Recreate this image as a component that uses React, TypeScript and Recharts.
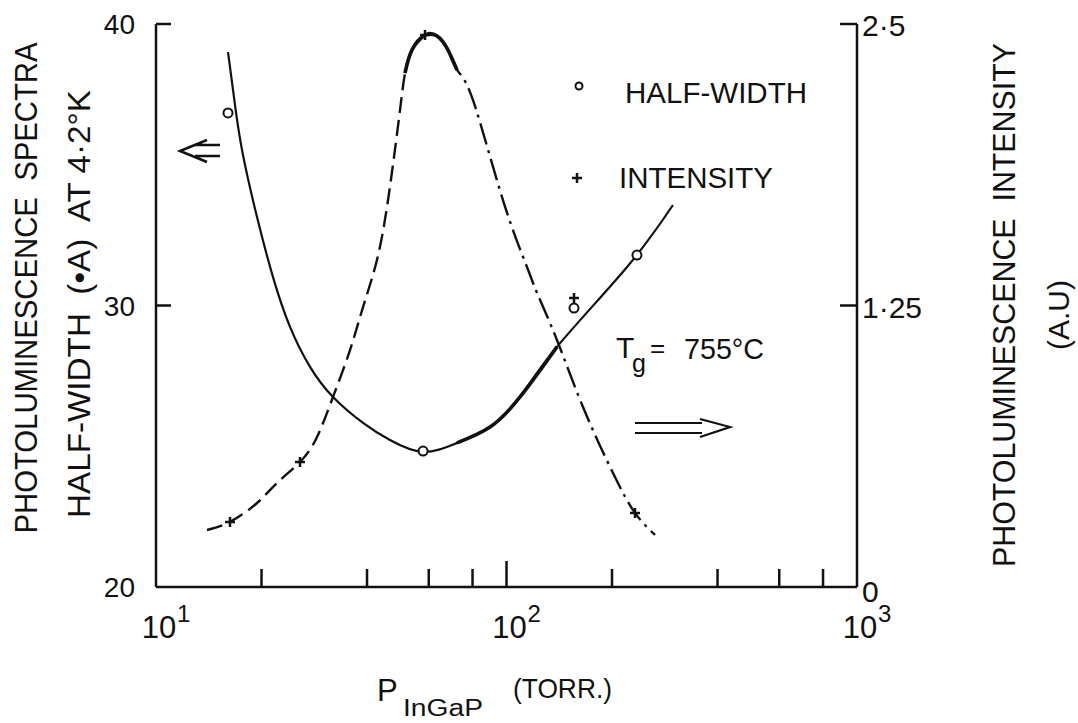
import React from "react";
import { ComposedChart, Line, Scatter, XAxis, YAxis } from "recharts";

const W = 1078;
const H = 723;
const INK = "#111";
const FONT = "'Liberation Sans', Arial, sans-serif";

// axis ticks
const xTicks = [10, 20, 40, 60, 80, 100, 200, 400, 600, 800, 1000];
const xMajor = [10, 100, 1000];
const xExponents = ["1", "2", "3"];
const widthTicks = [20, 30, 40];
const intensityTicks = [0, 1.25, 2.5];
const intensityTickLabels = ["0", "1·25", "2·5"];

// half-width curve (left axis, Å) vs P_InGaP (torr)
const widthCurveP = [16.05, 16.69, 17.6, 19.42, 21.57, 24.12, 27.51, 31.99, 38.96, 46.51, 57.8, 72.25, 89.74, 109.3, 139.3, 220.8, 298.5];
const widthCurveV = [39.0, 37.4, 35.52, 33.14, 31.01, 29.24, 27.82, 26.75, 25.83, 25.22, 24.8, 25.12, 25.68, 26.75, 28.53, 31.37, 33.57];
// the pen-heavy stretch of the same curve
const widthHeavyP = [72.25, 89.74, 109.3, 139.3];
const widthHeavyV = [25.12, 25.68, 26.75, 28.53];

// measured half-width points
const widthPointP = [16.05, 57.8, 155.8, 235.6];
const widthPointV = [36.84, 24.83, 29.91, 31.79];

// intensity curve (right axis, a.u.): dashed rise, solid top, dash-dot fall
const riseP = [13.98, 16.26, 19.42, 22.14, 25.75, 28.8, 31.99, 35.77, 38.96, 42.7, 45.6, 47.75, 49.68, 51.33, 53.75, 58.55];
const riseV = [0.253, 0.289, 0.373, 0.462, 0.555, 0.666, 0.844, 1.052, 1.243, 1.452, 1.687, 1.909, 2.118, 2.282, 2.385, 2.451];
const peakP = [51.33, 53.75, 58.55, 63.35, 67.64, 72.25];
const peakV = [2.282, 2.385, 2.451, 2.447, 2.393, 2.296];
const fallP = [58.55, 63.35, 67.64, 72.25, 80.2, 97.7, 114.4, 122.2, 139.3, 165.3, 201.3, 232.6, 265.3];
const fallV = [2.451, 2.447, 2.393, 2.296, 2.163, 1.718, 1.421, 1.306, 1.097, 0.799, 0.506, 0.329, 0.231];

// measured intensity points
const intensityPointP = [16.26, 25.75, 58.55, 155.8, 232.6];
const intensityPointV = [0.289, 0.555, 2.451, 1.283, 0.329];

const zip = (p: number[], v: number[]) => p.map((x, i) => ({ p: x, v: v[i] }));

function XTick({ x, y, payload }: any) {
  const v = payload.value;
  const k = xMajor.indexOf(v);
  return (
    <g>
      {v !== 10 && v !== 1000 && (
        <line x1={x} x2={x} y1={y} y2={y - (v === 100 ? 26 : 18)} stroke={INK} strokeWidth={2.5} />
      )}
      {k >= 0 && (
        <>
          <text x={x + 3} y={y + 51} textAnchor="middle" fontSize={31} fill={INK} fontFamily={FONT}>
            10
          </text>
          <text x={x + 21} y={y + 35} fontSize={24} fill={INK} fontFamily={FONT}>
            {xExponents[k]}
          </text>
        </>
      )}
    </g>
  );
}

function WidthTick({ x, y, payload }: any) {
  const v = payload.value;
  return (
    <g>
      {v !== 20 && <line x1={x} x2={x + 15} y1={y} y2={y} stroke={INK} strokeWidth={2.5} />}
      <text x={x - 21} y={y + 10} textAnchor="end" fontSize={28} fill={INK} fontFamily={FONT}>
        {v}
      </text>
    </g>
  );
}

function IntensityTick({ x, y, payload }: any) {
  const v = payload.value;
  return (
    <g>
      {v !== 0 && <line x1={x} x2={x - 17} y1={y} y2={y} stroke={INK} strokeWidth={2.5} />}
      <text x={x + 5} y={y + (v === 0 ? 15 : 12)} fontSize={30} fill={INK} fontFamily={FONT}>
        {intensityTickLabels[intensityTicks.indexOf(v)]}
      </text>
    </g>
  );
}

const openCircle = (r: number) => (props: any) =>
  <circle cx={props.cx} cy={props.cy} r={r} fill="#fff" stroke={INK} strokeWidth={2} />;

const plus = (props: any) => (
  <path
    d={`M${props.cx - 5},${props.cy}h10M${props.cx},${props.cy - 5}v10`}
    stroke={INK}
    strokeWidth={2.5}
  />
);

export default function App() {
  const axisLine = { stroke: INK, strokeWidth: 2.5 };
  const pre = { whiteSpace: "pre" as const };
  const curve = (data: { p: number; v: number }[], axis: string, width: number, dash?: string) => (
    <Line
      yAxisId={axis}
      data={data}
      dataKey="v"
      type="natural"
      stroke={INK}
      strokeWidth={width}
      strokeDasharray={dash}
      dot={false}
      activeDot={false}
      isAnimationActive={false}
    />
  );
  return (
    <div style={{ position: "absolute", left: 0, top: 0, width: W, height: H, background: "#fff" }}>
      <ComposedChart width={W} height={H} margin={{ top: 24, right: 151, bottom: 76, left: 86 }}>
        <XAxis
          dataKey="p"
          type="number"
          scale="log"
          domain={[10, 1000]}
          allowDataOverflow
          ticks={xTicks}
          interval={0}
          height={60}
          axisLine={axisLine}
          tickLine={false}
          tickSize={0}
          tickMargin={0}
          tick={(props: any) => <XTick {...props} />}
        />
        <YAxis
          yAxisId="w"
          dataKey="v"
          orientation="left"
          type="number"
          domain={[20, 40]}
          allowDataOverflow
          ticks={widthTicks}
          interval={0}
          width={70}
          axisLine={axisLine}
          tickLine={false}
          tickSize={0}
          tickMargin={0}
          tick={(props: any) => <WidthTick {...props} />}
        />
        <YAxis
          yAxisId="i"
          dataKey="v"
          orientation="right"
          type="number"
          domain={[0, 2.5]}
          allowDataOverflow
          ticks={intensityTicks}
          interval={0}
          width={70}
          axisLine={axisLine}
          tickLine={false}
          tickSize={0}
          tickMargin={0}
          tick={(props: any) => <IntensityTick {...props} />}
        />
        {curve(zip(widthCurveP, widthCurveV), "w", 2.2)}
        {curve(zip(widthHeavyP, widthHeavyV), "w", 3.6)}
        {curve(zip(riseP, riseV), "i", 2.4, "16 7")}
        {curve(zip(fallP, fallV), "i", 2.4, "22 6 3 6")}
        {curve(zip(peakP, peakV), "i", 3.6)}
        <Scatter
          yAxisId="w"
          data={zip(widthPointP, widthPointV)}
          dataKey="v"
          shape={openCircle(4.5)}
          isAnimationActive={false}
        />
        <Scatter
          yAxisId="i"
          data={zip(intensityPointP, intensityPointV)}
          dataKey="v"
          shape={plus}
          isAnimationActive={false}
        />
      </ComposedChart>

      <svg
        width={W}
        height={H}
        style={{ position: "absolute", left: 0, top: 0, pointerEvents: "none" }}
        fontFamily={FONT}
        fill={INK}
      >
        {/* axis titles */}
        <text transform="translate(37,288) rotate(-90)" textAnchor="middle" fontSize={31} textLength={491} lengthAdjust="spacingAndGlyphs" style={pre}>
          PHOTOLUMINESCENCE  SPECTRA
        </text>
        <text transform="translate(90,304) rotate(-90)" textAnchor="middle" fontSize={31} textLength={428} lengthAdjust="spacingAndGlyphs" style={pre}>
          HALF-WIDTH  (•A)  AT 4·2°K
        </text>
        <text transform="translate(1015,305) rotate(-90)" textAnchor="middle" fontSize={31} textLength={524} lengthAdjust="spacingAndGlyphs" style={pre}>
          PHOTOLUMINESCENCE  INTENSITY
        </text>
        <text transform="translate(1069,315) rotate(-90)" textAnchor="middle" fontSize={29} textLength={70} lengthAdjust="spacingAndGlyphs">
          (A.U)
        </text>
        <text x={377} y={701} fontSize={31}>P</text>
        <text x={403} y={716} fontSize={23} textLength={80} lengthAdjust="spacingAndGlyphs">InGaP</text>
        <text x={513} y={698} fontSize={28} textLength={99} lengthAdjust="spacingAndGlyphs">(TORR.)</text>

        {/* legend */}
        <circle cx={579} cy={86} r={3.5} fill="#fff" stroke={INK} strokeWidth={2} />
        <text x={625} y={103} fontSize={29} textLength={182} lengthAdjust="spacingAndGlyphs">HALF-WIDTH</text>
        <path d="M572,178h10M577,173v10" stroke={INK} strokeWidth={2.5} />
        <text x={619} y={188} fontSize={29} textLength={154} lengthAdjust="spacingAndGlyphs">INTENSITY</text>

        {/* growth temperature */}
        <text x={616} y={358} fontSize={30}>T</text>
        <text x={632} y={372} fontSize={25}>g</text>
        <text x={650} y={357} fontSize={26}>=</text>
        <text x={684} y={359} fontSize={30} textLength={80} lengthAdjust="spacingAndGlyphs">755°C</text>

        {/* axis arrows */}
        <path d="M195,145H220M195,156H220M207,140L180,151L207,162" stroke={INK} strokeWidth={2.5} fill="none" />
        <path d="M635,423H702M635,433H702M700,419L730,427L700,437" stroke={INK} strokeWidth={2.2} fill="none" />
      </svg>
    </div>
  );
}
